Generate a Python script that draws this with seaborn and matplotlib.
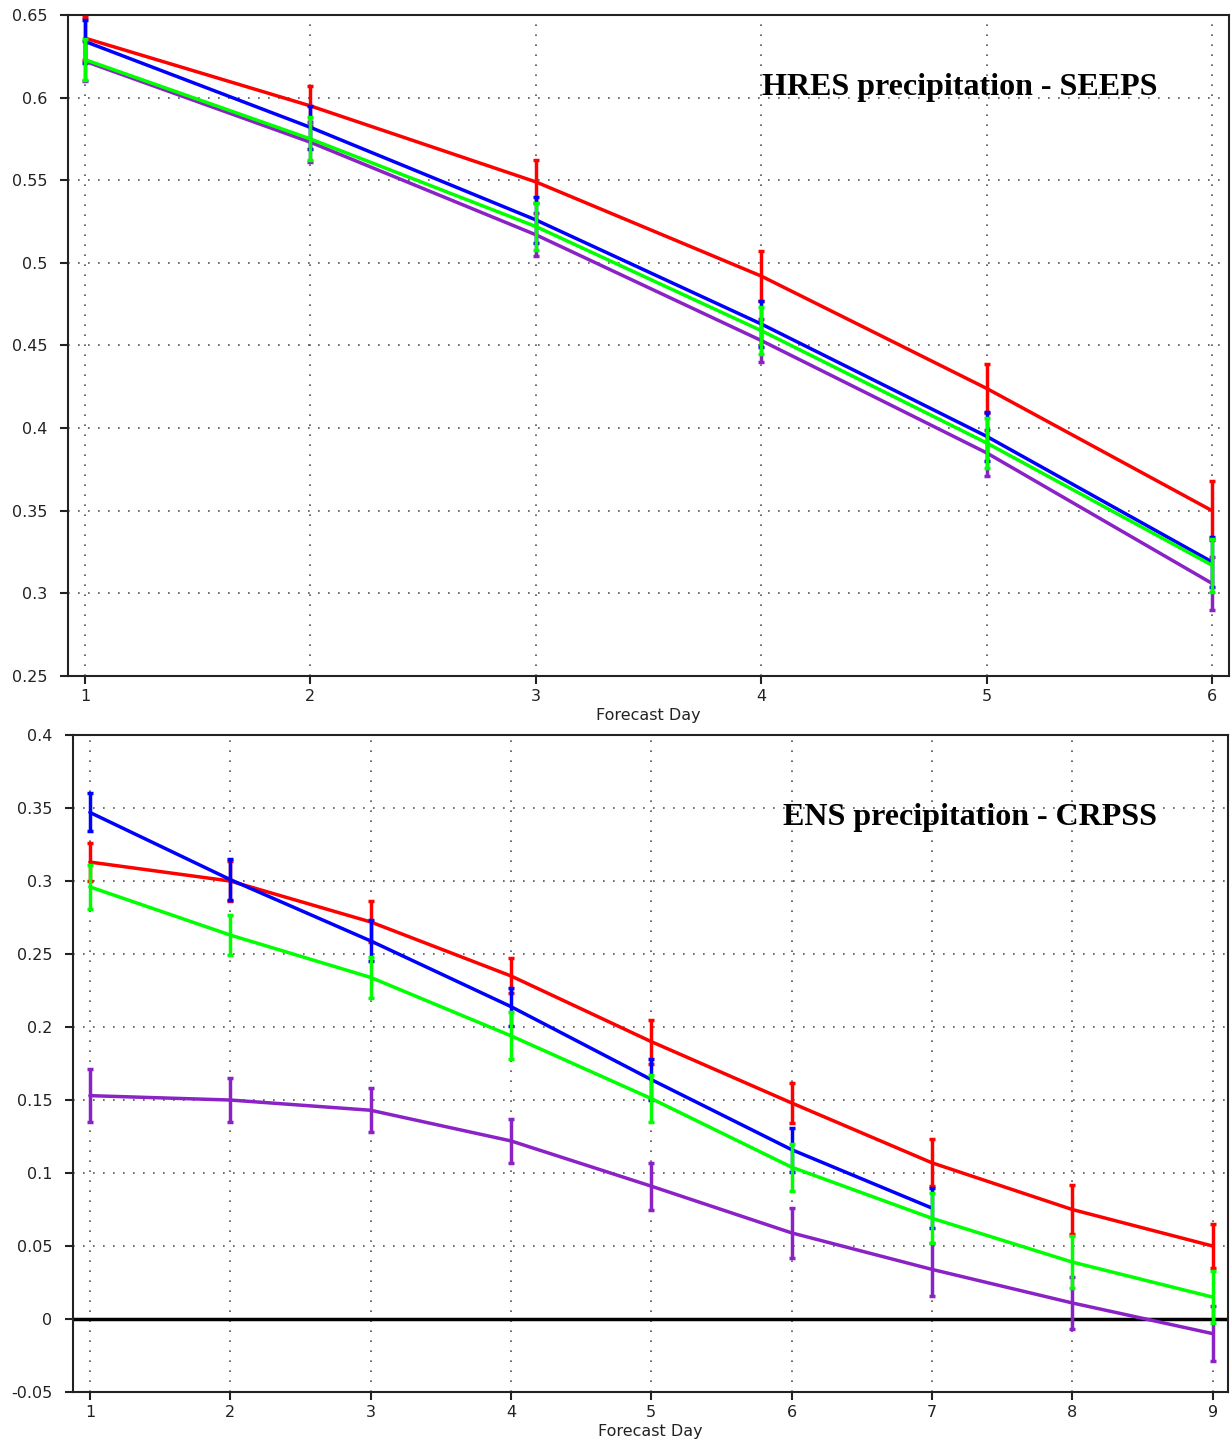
import numpy as np
import pandas as pd
import matplotlib
matplotlib.use("Agg")
import matplotlib.pyplot as plt
from matplotlib.ticker import FuncFormatter
import seaborn as sns

# ---- data ----
SERIES = ["red", "blue", "purple", "green"]
COLORS = {"red": "#ff0000", "blue": "#0000ff", "purple": "#8a22c6", "green": "#00ff00"}

# HRES precipitation - SEEPS (days 1-6)
hres_days = [1, 2, 3, 4, 5, 6]
hres_red = [0.636, 0.595, 0.549, 0.492, 0.424, 0.350]
hres_blue = [0.634, 0.582, 0.526, 0.463, 0.395, 0.319]
hres_purple = [0.622, 0.573, 0.517, 0.453, 0.385, 0.306]
hres_green = [0.623, 0.575, 0.522, 0.459, 0.391, 0.317]
hres_red_err = [0.013, 0.012, 0.013, 0.015, 0.015, 0.018]
hres_blue_err = [0.013, 0.013, 0.014, 0.014, 0.015, 0.015]
hres_purple_err = [0.012, 0.012, 0.013, 0.013, 0.014, 0.016]
hres_green_err = [0.0125, 0.013, 0.014, 0.014, 0.015, 0.016]

# ENS precipitation - CRPSS (days 1-9, blue only to day 7)
ens_days = [1, 2, 3, 4, 5, 6, 7, 8, 9]
ens_red = [0.313, 0.300, 0.272, 0.235, 0.190, 0.148, 0.107, 0.075, 0.050]
ens_blue = [0.347, 0.301, 0.259, 0.214, 0.164, 0.116, 0.076]
ens_purple = [0.153, 0.150, 0.143, 0.122, 0.091, 0.059, 0.034, 0.011, -0.010]
ens_green = [0.296, 0.263, 0.234, 0.194, 0.151, 0.104, 0.069, 0.039, 0.015]
ens_red_err = [0.013, 0.014, 0.014, 0.012, 0.015, 0.014, 0.016, 0.017, 0.015]
ens_blue_err = [0.013, 0.014, 0.014, 0.013, 0.014, 0.015, 0.014]
ens_purple_err = [0.018, 0.015, 0.015, 0.015, 0.016, 0.017, 0.018, 0.018, 0.019]
ens_green_err = [0.015, 0.014, 0.014, 0.016, 0.016, 0.016, 0.017, 0.018, 0.018]


def make_df(days, vals, errs):
    rows = []
    for name in SERIES:
        for d, v, e in zip(days, vals[name], errs[name]):
            rows.append({"day": d, "value": v, "err": e, "series": name})
    return pd.DataFrame(rows)


hres_df = make_df(hres_days,
                  {"red": hres_red, "blue": hres_blue, "purple": hres_purple, "green": hres_green},
                  {"red": hres_red_err, "blue": hres_blue_err, "purple": hres_purple_err, "green": hres_green_err})
ens_df = make_df(ens_days,
                 {"red": ens_red, "blue": ens_blue, "purple": ens_purple, "green": ens_green},
                 {"red": ens_red_err, "blue": ens_blue_err, "purple": ens_purple_err, "green": ens_green_err})

sns.set_style("ticks")
plt.rcParams['font.family'] = ['DejaVu Sans']
plt.rcParams['axes.unicode_minus'] = False

fig = plt.figure(figsize=(12.32, 14.41), dpi=100)
ax1 = fig.add_axes([0.0552, 0.5309, 0.9424, 0.4587])
ax2 = fig.add_axes([0.0593, 0.0340, 0.9375, 0.4559])


def draw(ax, df, days, xlim, ylim, yticks, title, tx, ty):
    # lines with seaborn, error bars with matplotlib
    for name in SERIES:
        sub = df[df["series"] == name]
        sns.lineplot(data=sub, x="day", y="value", color=COLORS[name], lw=2.5,
                     ax=ax, legend=False, zorder=3)
        ax.errorbar(sub["day"], sub["value"], yerr=sub["err"], fmt='none',
                    ecolor=COLORS[name], elinewidth=2.5, capsize=2, capthick=2.5, zorder=3)
    ax.set_xlim(*xlim)
    ax.set_ylim(*ylim)
    ax.set_xticks(days)
    ax.set_yticks(yticks)
    ax.yaxis.set_major_formatter(FuncFormatter(lambda v, p: "%g" % round(v, 3)))
    ax.grid(True, color="#555555", linestyle=(0, (1, 5)), lw=1.2)
    ax.set_axisbelow(True)
    for sp in ax.spines.values():
        sp.set_visible(True)
        sp.set_linewidth(1.5)
        sp.set_color("#222222")
    ax.tick_params(direction="out", length=6, width=1.5, labelsize=11.5, colors="#222222",
                   top=False, right=False)
    ax.tick_params(axis="y", pad=9)
    ax.set_xlabel("Forecast Day", fontsize=11.5, labelpad=3, color="#222222")
    ax.set_ylabel("")
    ax.text(tx, ty, title, transform=ax.transAxes, ha="right", va="center", color="black",
            fontsize=23, fontweight="bold", family=["Liberation Serif"], zorder=5)


draw(ax1, hres_df, hres_days, (0.925, 6.075), (0.25, 0.65), np.arange(0.25, 0.651, 0.05),
     "HRES precipitation - SEEPS", 0.938, 0.891)
draw(ax2, ens_df, ens_days, (0.88, 9.11), (-0.05, 0.4), np.arange(-0.05, 0.401, 0.05),
     "ENS precipitation - CRPSS", 0.9385, 0.874)
ax2.axhline(0, color="black", lw=2.5, zorder=2)

fig.savefig("out.png", dpi=100)
